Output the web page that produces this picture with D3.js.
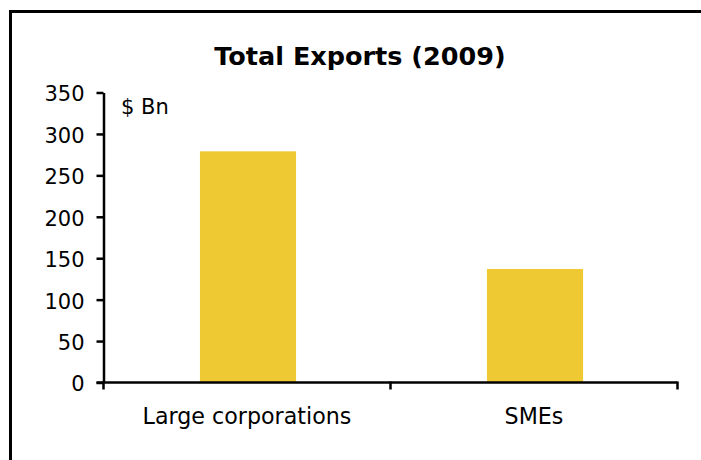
<!DOCTYPE html>
<html>
<head>
<meta charset="utf-8">
<script src="https://cdn.jsdelivr.net/npm/d3@7"></script>
<style>
  html, body { margin: 0; padding: 0; background: #fff; }
  svg { display: block; }
  text { font-family: "DejaVu Sans", Verdana, sans-serif; fill: #000; }
</style>
</head>
<body>
<svg id="chart" width="701" height="460"></svg>
<script>
// Total exports in 2009, $ billions
const categories = ["Large corporations", "SMEs"];
const exportsBn = [279, 137];
const yTicks = [0, 50, 100, 150, 200, 250, 300, 350];
const chartTitle = "Total Exports (2009)";
const unitLabel = "$ Bn";

const svg = d3.select("#chart");

// outer frame (runs off the right and bottom edges)
svg.append("rect")
  .attr("x", 10.5).attr("y", 11.5)
  .attr("width", 720).attr("height", 480)
  .attr("fill", "none").attr("stroke", "#000").attr("stroke-width", 3);

const plot = { left: 103.5, right: 677.5, top: 92.5, bottom: 382.5 };

const x = d3.scaleBand().domain(categories).range([plot.left, plot.right]).padding(0);
const y = d3.scaleLinear().domain([0, 350]).range([plot.bottom, plot.top]);

const barWidth = x.bandwidth() * 0.335;

// bars
svg.append("g").selectAll("rect")
  .data(categories.map((c, i) => ({ c, v: exportsBn[i] })))
  .join("rect")
  .attr("x", d => x(d.c) + x.bandwidth() / 2 - barWidth / 2 + 1)
  .attr("y", d => y(d.v))
  .attr("width", barWidth)
  .attr("height", d => y(0) - y(d.v))
  .attr("fill", "#EFC933");

// y axis
const yAxis = svg.append("g")
  .attr("transform", `translate(${plot.left},0)`)
  .call(d3.axisLeft(y).tickValues(yTicks).tickSize(7).tickPadding(12).tickSizeOuter(0));
yAxis.select(".domain").attr("stroke-width", 2.5);
yAxis.selectAll(".tick line").attr("stroke-width", 2.5);
yAxis.selectAll(".tick text")
  .style("font-family", "'DejaVu Sans', Verdana, sans-serif")
  .style("font-size", "21px")
  .attr("dy", "0.4em");

// x axis with ticks at the category boundaries
const xAxis = svg.append("g")
  .attr("transform", `translate(0,${plot.bottom})`);
xAxis.append("line")
  .attr("x1", plot.left - 7).attr("x2", plot.right)
  .attr("stroke", "#000").attr("stroke-width", 2.5);
const boundaries = categories.map(c => x(c)).concat([x(categories[categories.length - 1]) + x.bandwidth()]);
xAxis.selectAll(".bound")
  .data(boundaries)
  .join("line")
  .attr("x1", d => d).attr("x2", d => d)
  .attr("y1", -1).attr("y2", 7)
  .attr("stroke", "#000").attr("stroke-width", 2.5);
xAxis.selectAll(".cat")
  .data(categories)
  .join("text")
  .attr("x", d => x(d) + x.bandwidth() / 2)
  .attr("y", 41.5)
  .attr("text-anchor", "middle")
  .style("font-size", "22.2px")
  .text(d => d);

// title
svg.append("text")
  .attr("x", 360).attr("y", 65)
  .attr("text-anchor", "middle")
  .style("font-size", "25.5px")
  .style("font-weight", "bold")
  .text(chartTitle);

// unit label
svg.append("text")
  .attr("x", 121).attr("y", 114)
  .style("font-size", "21px")
  .text(unitLabel);
</script>
</body>
</html>
